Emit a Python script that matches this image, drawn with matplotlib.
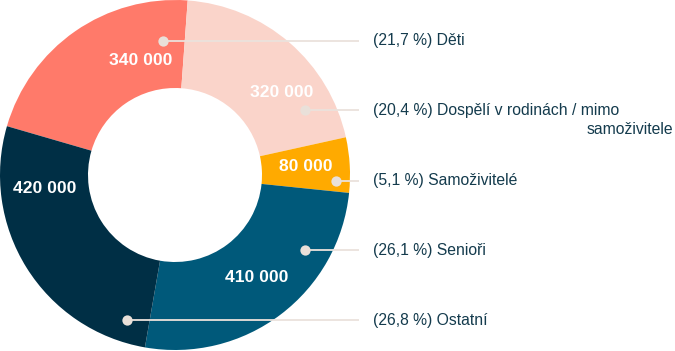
import matplotlib.pyplot as plt
import numpy as np

# data
CATEGORIES = ["Děti", "Dospělí v rodinách / mimo\nsamoživitele", "Samoživitelé", "Senioři", "Ostatní"]
VALUES = [340000, 320000, 80000, 410000, 420000]
COLORS = ["#ff7a6a", "#fad4ca", "#ffaa00", "#00597a", "#002f45"]

TEXT_COLOR = "#143b4d"
LINE_COLOR = "#ebe2dc"

W, H = 675, 351
CX, CY, R, RING = 175, 176, 175, 88

# layout: value label polar positions, leader dot x and label rows (pixels from top)
VALUE_ANGLES = [106.6, 37.7, 3.6, -51.4, 186.1]
VALUE_RADII = [119, 135, 131, 131, 131]
DOT_X = [163, 305, 336, 305, 127]
ROW_Y = [41, 110, 181, 250, 320]


def fmt_thousands(v):
    return f"{v:,}".replace(",", " ")


def fmt_pct(p):
    return f"({p:.1f} %)".replace(".", ",")


fig = plt.figure(figsize=(W / 100, H / 100), dpi=100)
ax = fig.add_axes([0, 0, 1, 1])
plt.rcParams["font.family"] = ["Liberation Sans", "DejaVu Sans"]

ax.pie(
    VALUES,
    colors=COLORS,
    radius=R,
    center=(CX, CY),
    startangle=163.8,
    counterclock=False,
    wedgeprops=dict(width=RING, linewidth=0),
)
ax.set_xlim(0, W)
ax.set_ylim(0, H)
ax.set_aspect("equal")
ax.axis("off")

total = sum(VALUES)

for i, (name, value) in enumerate(zip(CATEGORIES, VALUES)):
    a = np.deg2rad(VALUE_ANGLES[i])
    ax.text(
        CX + VALUE_RADII[i] * np.cos(a),
        CY + VALUE_RADII[i] * np.sin(a),
        fmt_thousands(value),
        ha="center",
        va="center",
        color="white",
        fontsize=12.6,
        fontweight="bold",
    )

    y = H - ROW_Y[i]
    ax.plot([DOT_X[i], 359], [y, y], color=LINE_COLOR, lw=1.3, solid_capstyle="butt", zorder=3)
    ax.scatter([DOT_X[i]], [y], s=55, color="#e9e0d9", zorder=4, linewidths=0)

    lines = name.split("\n")
    ax.text(
        373, y, f"{fmt_pct(value / total * 100)} {lines[0]}",
        ha="left", va="center", fontsize=11.3, color=TEXT_COLOR,
    )
    for k, extra in enumerate(lines[1:], start=1):
        ax.text(673, y - 19 * k, extra, ha="right", va="center", fontsize=11.3, color=TEXT_COLOR)

fig.savefig("out.png", dpi=100)
